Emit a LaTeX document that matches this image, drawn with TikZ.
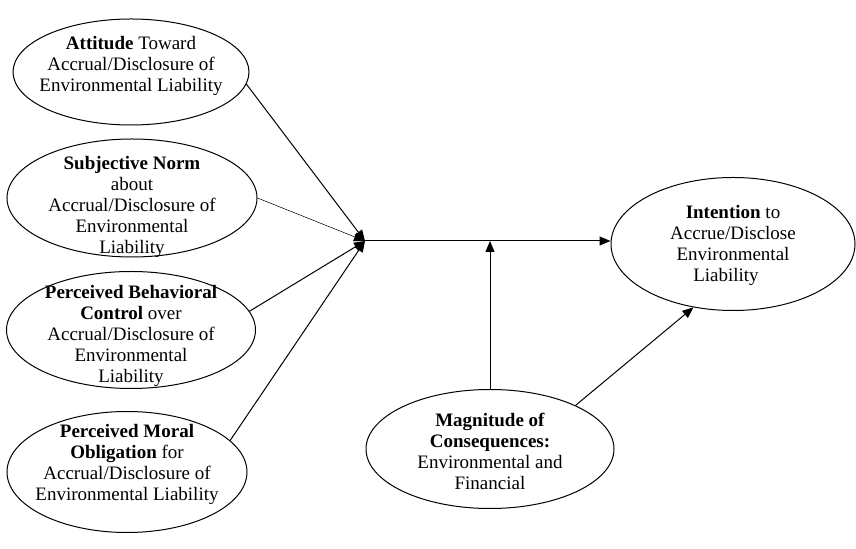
\documentclass[tikz,border=0pt]{standalone}
\usepackage{fontspec}
\setmainfont{Liberation Serif}
\usetikzlibrary{shapes.geometric, arrows.meta, calc}

\begin{document}
\begin{tikzpicture}[x=0.5pt, y=-0.5pt, font=\fontsize{9.5}{10.5}\selectfont,
oval/.style n args={2}{ellipse, draw, line width=0.5pt, inner sep=0pt,
minimum width=#1, minimum height=#2},
txt/.style={align=center, inner sep=0pt},
arrow/.style={-{Triangle[length=5.5pt,width=4.5pt]}, line width=0.5pt}
]
\useasboundingbox (0,0) rectangle (856,549);

% Predictors
\node[oval={118pt}{53pt}] (att) at (131,72) {};
\node[txt] (att-t) at (131,66)
{\textbf{Attitude} Toward\\Accrual/Disclosure of\\Environmental Liability};

\node[oval={125pt}{59pt}] (norm) at (132,198) {};
\node[txt] (norm-t) at (132,207)
{\textbf{Subjective Norm}\\about\\Accrual/Disclosure of\\Environmental\\Liability};

\node[oval={124.5pt}{58.5pt}] (pbc) at (131,330) {};
\node[txt] (pbc-t) at (131,336)
{\textbf{Perceived Behavioral}\\\textbf{Control} over\\Accrual/Disclosure of\\Environmental\\Liability};

\node[oval={120pt}{60.5pt}] (pmo) at (127,472) {};
\node[txt] (pmo-t) at (127,464)
{\textbf{Perceived Moral}\\\textbf{Obligation} for\\Accrual/Disclosure of\\Environmental Liability};

% Outcome
\node[oval={122pt}{66.5pt}] (intent) at (733,244) {};
\node[txt] (intent-t) at (733,245)
{\textbf{Intention} to\\Accrue/Disclose\\Environmental\\Liability\hspace*{7pt}};

% Moderator
\node[oval={124pt}{59.5pt}] (mag) at (490,449) {};
\node[txt] (mag-t) at (490,451)
{\textbf{Magnitude of}\\\textbf{Consequences:}\\Environmental and\\Financial};

% Junction
\coordinate (J) at (365,241);

% Arrows
\draw[arrow] (att.-6) -- (J);
\draw[arrow, line width=0.25pt] (norm.east) -- (J);
\draw[arrow] (pbc.9) -- (J);
\draw[arrow] (pmo.17) -- (J);
\draw[arrow] (J) -- (J -| intent.west);
\draw[arrow] (mag.north) -- (mag.north |- J);
\draw[arrow] (mag.27) -- (intent.238);

\end{tikzpicture}
\end{document}
